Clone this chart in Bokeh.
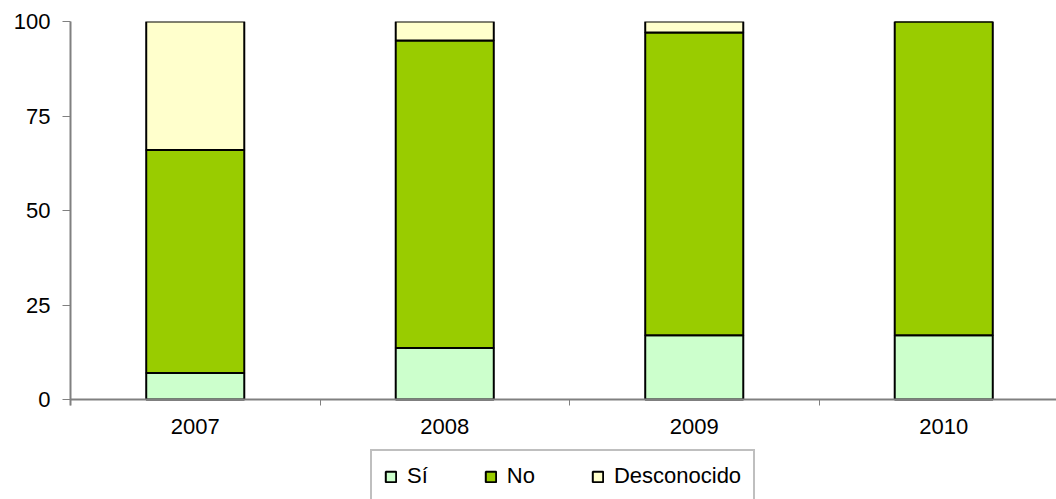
from bokeh.plotting import figure
from bokeh.models import ColumnDataSource, Range1d, FixedTicker, Legend, LegendItem
from bokeh.embed import file_html
from bokeh.resources import INLINE

# data (percent)
years = ["2007", "2008", "2009", "2010"]
si = [7, 13.6, 17, 17]
no = [59, 81.4, 80.1, 83]
desconocido = [34, 5, 2.9, 0]

series = ["si", "no", "desconocido"]
labels = ["Sí", "No", "Desconocido"]
colors = ["#CCFFCC", "#99CC00", "#FFFFCC"]

xs = [i + 0.5 for i in range(len(years))]
src = ColumnDataSource(dict(x=xs, si=si, no=no, desconocido=desconocido))

FONT = "Liberation Sans"
GRAY = "#808080"

# frame runs to the bottom of the page; the value axis spans 0-100 in its upper part
W, H, TOP, LEFT, ZERO_Y = 1056, 499, 21, 70, 399
y_start = -100 * (H - ZERO_Y) / (ZERO_Y - TOP)

p = figure(width=W, height=H, output_backend="svg", toolbar_location=None,
           x_range=Range1d(0, (W - LEFT) / 249.5), y_range=Range1d(y_start, 100),
           min_border_left=LEFT, min_border_right=0, min_border_top=TOP,
           min_border_bottom=0)
p.outline_line_color = None
p.background_fill_color = "white"

rends = p.vbar_stack(series, x="x", width=0.393, source=src, fill_color=colors,
                     line_color="black", line_width=2)

# only the top gridline is drawn
p.xgrid.visible = False
p.ygrid.ticker = FixedTicker(ticks=[100])
p.ygrid.grid_line_color = GRAY
p.ygrid.grid_line_width = 2

# y axis
p.yaxis.ticker = FixedTicker(ticks=[0, 25, 50, 75, 100])
p.yaxis.bounds = (-1.5, 100)
p.yaxis.axis_line_color = GRAY
p.yaxis.axis_line_width = 2
p.yaxis.major_tick_line_color = GRAY
p.yaxis.major_tick_out = 8
p.yaxis.major_tick_in = 0
p.yaxis.minor_tick_line_color = None
p.yaxis.major_label_standoff = 12

# x axis sits at y = 0: labels at centres, small ticks between categories
p.xaxis.fixed_location = 0
p.xaxis.ticker = FixedTicker(ticks=xs, minor_ticks=[0, 1, 2, 3])
p.xaxis.major_label_overrides = {x: y for x, y in zip(xs, years)}
p.xaxis.axis_line_color = GRAY
p.xaxis.axis_line_width = 2
p.xaxis.major_tick_line_color = None
p.xaxis.major_tick_out = 0
p.xaxis.major_tick_in = 0
p.xaxis.minor_tick_line_color = GRAY
p.xaxis.minor_tick_out = 6
p.xaxis.minor_tick_in = 0
p.xaxis.major_label_standoff = 13

for ax in (p.xaxis, p.yaxis):
    ax.major_label_text_font = FONT
    ax.major_label_text_font_size = "22px"
    ax.major_label_text_color = "black"

legend = Legend(items=[LegendItem(label=l, renderers=[r]) for l, r in zip(labels, rends)],
                orientation="horizontal", location=(300, -4),
                label_text_font=FONT, label_text_font_size="22px", label_text_color="black",
                glyph_width=13, glyph_height=13, label_standoff=10, spacing=56,
                padding=12, margin=0, border_line_color=GRAY, border_line_width=2,
                background_fill_alpha=1)
p.add_layout(legend, "center")

open("out.html", "w").write(file_html(p, INLINE))
